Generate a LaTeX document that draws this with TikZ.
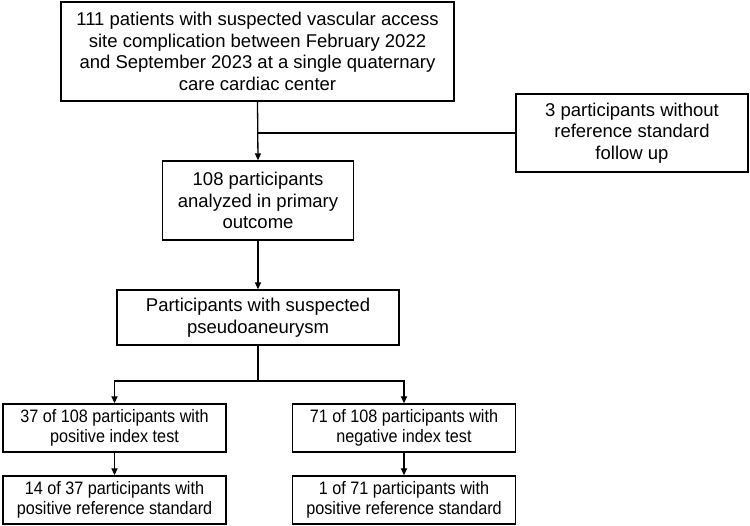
\documentclass[tikz,border=0pt]{standalone}
\usepackage{fontspec}
\setmainfont{Liberation Sans}
\newfontfamily\narrowfont[FakeStretch=0.9]{Liberation Sans}
\usetikzlibrary{arrows.meta}
\begin{document}
\begin{tikzpicture}[x=1pt, y=-1pt,
    box/.style={draw, line width=1.3pt, align=center, inner sep=2pt,
      font=\fontsize{18.5}{21.5}\selectfont},
    smallbox/.style={box, font=\narrowfont\fontsize{18}{20}\selectfont,
      minimum width=223pt, minimum height=48pt},
    flow/.style={line width=1.3pt, -{Triangle[length=7pt, width=6pt]}}]
      \useasboundingbox (0,0) rectangle (750,526);
      % upper part of the chart
      \node[box, minimum width=393pt, minimum height=99pt] (all) at (257.5,51.5)
        {111 patients with suspected vascular access\\
         site complication between February 2022\\
         and September 2023 at a single quaternary\\
         care cardiac center};
      \node[box, minimum width=232pt, minimum height=78pt] (excl) at (632,133)
        {3 participants without\\ reference standard\\ follow up};
      \node[box, minimum width=191pt, minimum height=79pt] (analyzed) at (258,200.5)
        {108 participants\\ analyzed in primary\\ outcome};
      \node[box, minimum width=282pt, minimum height=55pt] (pseudo) at (258,317.5)
        {Participants with suspected\\ pseudoaneurysm};
      % index test and reference standard
      \node[smallbox] (pos) at (114.5,428)
        {37 of 108 participants with\\ positive index test};
      \node[smallbox] (neg) at (404,428)
        {71 of 108 participants with\\ negative index test};
      \node[smallbox] (posref) at (114.5,500)
        {14 of 37 participants with\\ positive reference standard};
      \node[smallbox] (negref) at (404,500)
        {1 of 71 participants with\\ positive reference standard};
      \coordinate (split) at (258,381);
      \draw[flow] (all.south) -- (analyzed.north);
      \draw[line width=1.3pt] (excl.west) -- (excl.west -| all.south);
      \draw[flow] (analyzed.south) -- (pseudo.north);
      \draw[line width=1.3pt] (pseudo.south) -- (split);
      \draw[flow] (split) -| (pos.north);
      \draw[flow] (split) -| (neg.north);
      \draw[flow] (pos.south) -- (posref.north);
      \draw[flow] (neg.south) -- (negref.north);
    \end{tikzpicture}
\end{document}
